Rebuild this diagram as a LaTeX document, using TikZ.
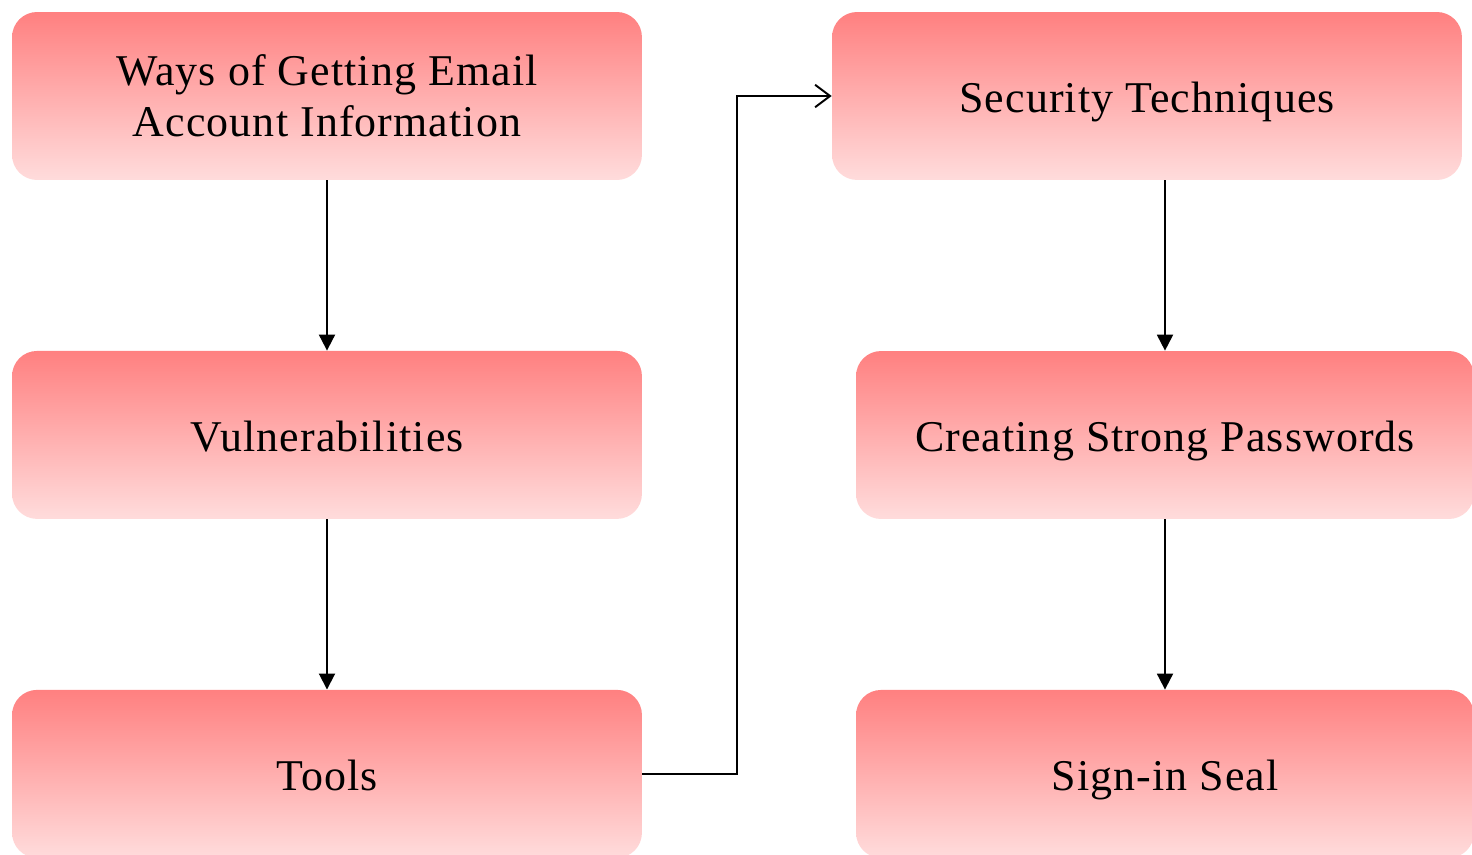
\documentclass[tikz,border=0pt]{standalone}
\usepackage{fontspec}
\setmainfont[LetterSpace=2.5]{Liberation Serif}
\usetikzlibrary{positioning,arrows.meta}

\tikzset{
  topic/.style={rectangle,rounded corners=0.5cm,minimum width=12.6cm,
    minimum height=3.36cm,top color=boxtop,bottom color=boxbottom,
    align=center,font=\fontsize{25}{29}\selectfont},
  oneline/.style={text height=0.68cm,text depth=0pt},
  link/.style={line width=1.1pt,-{Triangle[length=0.32cm,width=0.32cm]}},
  jump/.style={line width=1.1pt,-{Straight Barb[length=0.3cm,width=0.45cm]}}
}
\definecolor{boxtop}{HTML}{FF8080}
\definecolor{boxbottom}{HTML}{FFDCDC}

\begin{document}
\begin{tikzpicture}[x=0.02cm,y=-0.02cm,node distance=6.78cm,on grid]
			\clip (0,0) rectangle (1472,855);
			\useasboundingbox (0,0) rectangle (1472,855);
			\node[topic](ways) at (327,96) {Ways of Getting Email\\Account Information};
			\node[topic,oneline](vuln)[below=of ways] {Vulnerabilities};
			\node[topic,oneline](tools)[below=of vuln] {Tools};
			\node[topic,oneline](sec) at (1147,96) {Security Techniques};
			\node[topic,oneline,minimum width=12.36cm](pass) at (1165,435) {Creating Strong Passwords};
			\node[topic,oneline,minimum width=12.36cm](seal)[below=of pass] {Sign-in Seal};
			\draw[link] (ways) -- (vuln);
			\draw[link] (vuln) -- (tools);
			\draw[link] (sec.south -| pass.north) -- (pass);
			\draw[link] (pass) -- (seal);
			\draw[jump] (tools.east) -| (737,96) -- (sec.west);
			\end{tikzpicture}
\end{document}
